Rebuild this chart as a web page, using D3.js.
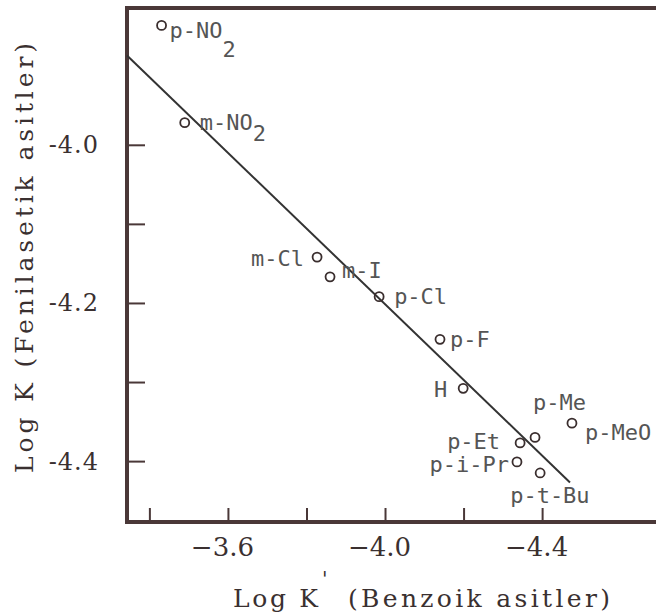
<!DOCTYPE html>
<html><head><meta charset="utf-8">
<script src="https://cdn.jsdelivr.net/npm/d3@7"></script>
<style>
body{margin:0;background:#fff}
.lbl{font-family:"DejaVu Sans Mono",monospace;font-size:22px;fill:#555}
.tk{font-family:"DejaVu Serif",serif;fill:#3a3030}
.ttl{font-family:"DejaVu Serif",serif;font-size:25px;fill:#3a3030}
</style>
</head><body>
<svg id="chart" width="656" height="616"></svg>
<script>
// substituents
var names = ["p-NO2","m-NO2","m-Cl","m-I","p-Cl","p-F","H","p-Me","p-Et","p-MeO","p-i-Pr","p-t-Bu"];
// log K' (benzoik asitler)
var logKb = [-3.431,-3.490,-3.827,-3.860,-3.985,-4.140,-4.199,-4.382,-4.344,-4.476,-4.336,-4.395];
// log K (fenilasetik asitler)
var logKf = [-3.849,-3.972,-4.142,-4.167,-4.192,-4.246,-4.308,-4.370,-4.377,-4.352,-4.401,-4.415];
// regression line end points
var fitX = [-3.343,-4.471];
var fitY = [-3.887,-4.427];
var xTicks = [-3.4,-3.6,-3.8,-4.0,-4.2,-4.4];
var xLabels = [-3.6,-4.0,-4.4];
var yTicks = [-4.0,-4.1,-4.2,-4.3,-4.4];
var yLabels = [-4.0,-4.2,-4.4];

// where each label sits relative to its circle (pixels)
var place = {
  "p-NO2":{dx:8,dy:13,a:"start",sub:19},
  "m-NO2":{dx:15,dy:7,a:"start",sub:11},
  "m-Cl":{dx:-13,dy:9,a:"end"},
  "m-I":{dx:12,dy:1,a:"start"},
  "p-Cl":{dx:15,dy:7,a:"start"},
  "p-F":{dx:10,dy:8,a:"start"},
  "H":{dx:-16,dy:9,a:"end"},
  "p-Me":{dx:-2,dy:-27,a:"start"},
  "p-Et":{dx:-20,dy:6,a:"end"},
  "p-MeO":{dx:13,dy:17,a:"start"},
  "p-i-Pr":{dx:-8,dy:10,a:"end"},
  "p-t-Bu":{dx:-30,dy:30,a:"start"}
};

var svg = d3.select("#chart");
var axisCol = "#4a3838";

var x = d3.scaleLinear().domain([-3.343,-4.690]).range([127,656]);
var y = d3.scaleLinear().domain([-3.827,-4.477]).range([8,522]);

// frame (left, top, bottom)
svg.append("path")
  .attr("d","M656,"+y.range()[0]+"H"+x.range()[0]+"V"+y.range()[1]+"H656")
  .attr("fill","none").attr("stroke",axisCol).attr("stroke-width",4);

var fmtX = function(d){ return d3.format(".1f")(d); };           // long minus
var fmtY = function(d){ return d3.format(".1f")(d).replace("\u2212","-"); };

var gx = svg.append("g").attr("transform","translate(0,"+y.range()[1]+")")
  .call(d3.axisBottom(x).tickValues(xTicks).tickSize(-14).tickPadding(20)
    .tickFormat(function(d){ return xLabels.indexOf(d)>=0 ? fmtX(d) : ""; }));
gx.select(".domain").remove();
gx.selectAll("line").attr("stroke",axisCol).attr("stroke-width",2);
gx.selectAll("text").attr("class","tk").attr("font-size",null).attr("font-family",null)
  .style("font-size","26px").attr("fill",null).attr("dy",null).attr("y",34).attr("dx",-6);

var gy = svg.append("g").attr("transform","translate("+x.range()[0]+",0)")
  .call(d3.axisLeft(y).tickValues(yTicks).tickSize(-18).tickPadding(28)
    .tickFormat(function(d){ return yLabels.indexOf(d)>=0 ? fmtY(d) : ""; }));
gy.select(".domain").remove();
gy.selectAll("line").attr("stroke",axisCol).attr("stroke-width",2);
gy.selectAll("text").attr("class","tk").attr("font-size",null).attr("font-family",null)
  .style("font-size","24px").style("letter-spacing","1px").attr("fill",null).attr("dy",null).attr("y",8);

// fitted line
svg.append("path")
  .attr("d", d3.line().x(function(d){return x(d[0]);}).y(function(d){return y(d[1]);})(d3.zip(fitX,fitY)))
  .attr("fill","none").attr("stroke","#333").attr("stroke-width",2);

// points
svg.selectAll("circle.pt").data(names).enter().append("circle")
  .attr("class","pt")
  .attr("cx",function(d,i){return x(logKb[i]);})
  .attr("cy",function(d,i){return y(logKf[i]);})
  .attr("r",4.5).attr("fill","none").attr("stroke","#3a2e2e").attr("stroke-width",1.8);

// labels
names.forEach(function(n,i){
  var p = place[n];
  var t = svg.append("text").attr("class","lbl")
    .attr("x",x(logKb[i])+p.dx).attr("y",y(logKf[i])+p.dy)
    .attr("text-anchor",p.a);
  var m = n.match(/^(.*NO)2$/);
  if (m) {
    t.append("tspan").text(m[1]);
    t.append("tspan").attr("dy",p.sub).text("2");
  } else t.text(n);
});

// axis titles
svg.append("text").attr("class","ttl").attr("x",233).attr("y",607)
  .attr("textLength",85).attr("lengthAdjust","spacing").text("Log K");
svg.append("text").attr("class","ttl").attr("x",322).attr("y",586).style("font-size","20px").text("'");
svg.append("text").attr("class","ttl").attr("x",348).attr("y",607)
  .attr("textLength",262).attr("lengthAdjust","spacing").text("(Benzoik asitler)");

svg.append("text").attr("class","ttl")
  .attr("transform","translate(33,473) rotate(-90)")
  .attr("textLength",430).attr("lengthAdjust","spacing")
  .text("Log K (Fenilasetik asitler)");
</script>
</body></html>
